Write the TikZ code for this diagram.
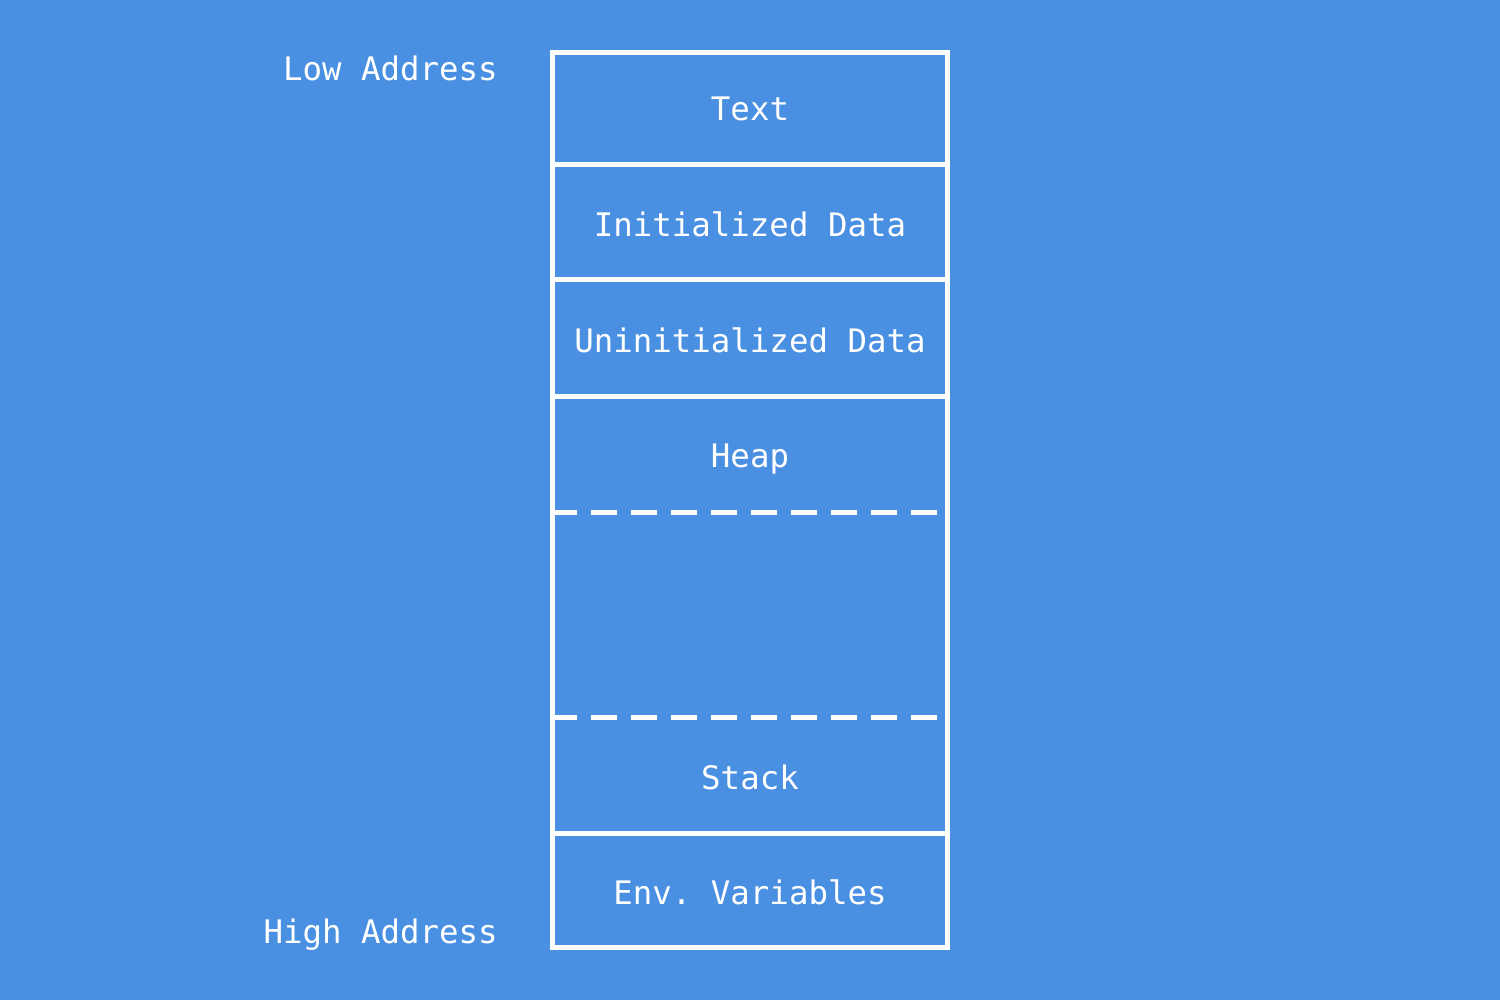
\documentclass[tikz,border=0pt]{standalone}
\usepackage{fontspec}
\setmonofont{DejaVu Sans Mono}
\definecolor{bgblue}{HTML}{4A90E2}
\begin{document}
\begin{tikzpicture}[x=0.5pt,y=-0.5pt,
  lbl/.style={text=white,font=\ttfamily\fontsize{16.2}{19}\selectfont,inner sep=0pt},
  wall/.style={draw=white,line width=2.5pt},
  divider/.style={draw=white,line width=2.5pt},
  gapline/.style={draw=white,line width=2.3pt,dash pattern=on 13pt off 7pt,dash phase=2pt}]
  \fill[bgblue] (0,0) rectangle (1500,1000);
  \useasboundingbox (0,0) rectangle (1500,1000);
  % memory column
  \draw[wall] (552.5,52.5) rectangle (947.5,947.5);
  \foreach \yy in {165,280,396,833} \draw[divider] (555,\yy) -- (945,\yy);
  \foreach \yy in {512.5,717.5} \draw[gapline] (555,\yy) -- (940,\yy);
  % segment names
  \node[lbl,anchor=base] (text) at (750,121) {Text};
  \node[lbl,anchor=base] (init) at (750,236.5) {Initialized Data};
  \node[lbl,anchor=base] (uninit) at (750,352) {Uninitialized Data};
  \node[lbl,anchor=base] (heap) at (750,467.5) {Heap};
  \node[lbl,anchor=base] (stack) at (750,789.5) {Stack};
  \node[lbl,anchor=base] (env) at (750,904.5) {Env. Variables};
  % address direction
  \node[lbl,anchor=base east] (low) at (498,80.5) {Low Address};
  \node[lbl,anchor=base east] (high) at (498,943.5) {High Address};
\end{tikzpicture}
\end{document}
